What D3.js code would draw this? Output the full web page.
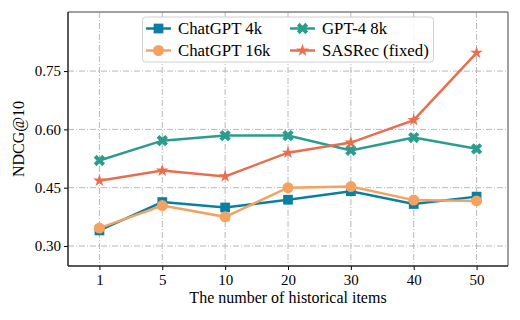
<!DOCTYPE html>
<html>
<head>
<meta charset="utf-8">
<script src="https://cdn.jsdelivr.net/npm/d3@7"></script>
<style>
  body { margin: 0; background: #fff; }
  text { font-family: "Liberation Serif", "DejaVu Serif", serif; }
</style>
</head>
<body>
<div id="chart"></div>
<script>
// categories on the x axis
const items = ["1", "5", "10", "20", "30", "40", "50"];
const yTicks = [0.30, 0.45, 0.60, 0.75];

const chatgpt4k  = [0.340, 0.413, 0.399, 0.419, 0.441, 0.408, 0.427];
const chatgpt16k = [0.346, 0.404, 0.375, 0.450, 0.453, 0.418, 0.416];
const gpt4_8k    = [0.520, 0.571, 0.584, 0.584, 0.546, 0.579, 0.550];
const sasrec     = [0.468, 0.494, 0.479, 0.540, 0.566, 0.624, 0.797];

const series = [
  { name: "ChatGPT 4k",     values: chatgpt4k,  color: "#0b7fa3", marker: "square" },
  { name: "ChatGPT 16k",    values: chatgpt16k, color: "#f4a261", marker: "circle" },
  { name: "GPT-4 8k",       values: gpt4_8k,    color: "#2a9d8f", marker: "x" },
  { name: "SASRec (fixed)", values: sasrec,     color: "#e76f51", marker: "star" }
];

const W = 520, H = 320;
const margin = { top: 12, right: 12, bottom: 54, left: 68 };
const width = W - margin.left - margin.right,
      height = H - margin.top - margin.bottom;

const svg = d3.select("#chart").append("svg")
  .attr("width", W).attr("height", H);
const g = svg.append("g").attr("transform", `translate(${margin.left},${margin.top})`);

const x = d3.scalePoint().domain(items).range([0, width]).padding(0.5);
const y = d3.scaleLinear().domain([0.2485, 0.902]).range([height, 0]);

// grid
g.append("g").selectAll("line.gx").data(items).enter().append("line")
  .attr("x1", d => x(d)).attr("x2", d => x(d)).attr("y1", 0).attr("y2", height)
  .attr("stroke", "#b8b8b8").attr("stroke-width", 1).attr("stroke-dasharray", "6,2,1,2");
g.append("g").selectAll("line.gy").data(yTicks).enter().append("line")
  .attr("x1", 0).attr("x2", width).attr("y1", d => y(d)).attr("y2", d => y(d))
  .attr("stroke", "#b8b8b8").attr("stroke-width", 1).attr("stroke-dasharray", "6,2,1,2");

// axes
const xAxis = g.append("g").attr("transform", `translate(0,${height})`)
  .call(d3.axisBottom(x).tickSize(4).tickPadding(4));
const yAxis = g.append("g")
  .call(d3.axisLeft(y).tickValues(yTicks).tickFormat(d3.format(".2f")).tickSize(4).tickPadding(3));
[xAxis, yAxis].forEach(a => {
  a.select(".domain").remove();
  a.selectAll("text").attr("font-size", 15).attr("fill", "#000")
    .style("font-family", "'Liberation Serif', serif");
  a.selectAll(".tick line").attr("stroke", "#000").attr("stroke-width", 1);
});

// spines
g.append("line").attr("x1", 0).attr("x2", width).attr("y1", 0).attr("y2", 0)
  .attr("stroke", "#808080").attr("stroke-width", 1.5);
g.append("line").attr("x1", width).attr("x2", width).attr("y1", 0).attr("y2", height)
  .attr("stroke", "#808080").attr("stroke-width", 1.5);
g.append("line").attr("x1", 0).attr("x2", 0).attr("y1", 0).attr("y2", height)
  .attr("stroke", "#222").attr("stroke-width", 1.5);
g.append("line").attr("x1", 0).attr("x2", width).attr("y1", height).attr("y2", height)
  .attr("stroke", "#222").attr("stroke-width", 1.5);

// markers
const symbolFor = {
  square: d3.symbol().type(d3.symbolSquare).size(95),
  circle: d3.symbol().type(d3.symbolCircle).size(95),
  x: d3.symbol().type(d3.symbolCross).size(80),
  star: d3.symbol().type(d3.symbolStar).size(50)
};
const rotFor = { square: 0, circle: 0, x: 45, star: 0 };

const line = d3.line().x((d, i) => x(items[i])).y(d => y(d));

series.forEach(s => {
  const sg = g.append("g");
  sg.append("path").datum(s.values)
    .attr("d", line).attr("fill", "none")
    .attr("stroke", s.color).attr("stroke-width", 2.5);
  sg.selectAll("path.m").data(s.values).enter().append("path")
    .attr("class", "m")
    .attr("d", symbolFor[s.marker])
    .attr("transform", (d, i) => `translate(${x(items[i])},${y(d)}) rotate(${rotFor[s.marker]})`)
    .attr("fill", s.color);
});

// axis labels
svg.append("text")
  .attr("x", margin.left + width / 2).attr("y", 302.5)
  .attr("text-anchor", "middle").attr("font-size", 16).text("The number of historical items");
svg.append("text")
  .attr("transform", `translate(24,${margin.top + height / 2}) rotate(-90)`)
  .attr("text-anchor", "middle").attr("font-size", 16).text("NDCG@10");

// legend
const lg = svg.append("g");
lg.append("rect").attr("x", 142.5).attr("y", 17).attr("width", 291).attr("height", 45)
  .attr("rx", 3).attr("fill", "#fff").attr("fill-opacity", 0.85)
  .attr("stroke", "#d0d0d0").attr("stroke-width", 1);
const legPos = [
  { x: 146, y: 28.5 }, { x: 146, y: 50.5 }, { x: 290, y: 28.5 }, { x: 290, y: 50.5 }
];
series.forEach((s, i) => {
  const p = legPos[i];
  const e = lg.append("g").attr("transform", `translate(${p.x},${p.y})`);
  e.append("line").attr("x1", 0).attr("x2", 25).attr("stroke", s.color).attr("stroke-width", 2.5);
  e.append("path").attr("d", symbolFor[s.marker])
    .attr("transform", `translate(12.5,0) rotate(${rotFor[s.marker]})`).attr("fill", s.color);
  e.append("text").attr("x", 32).attr("y", 5.5).attr("font-size", 16.8).text(s.name);
});
</script>
</body>
</html>
